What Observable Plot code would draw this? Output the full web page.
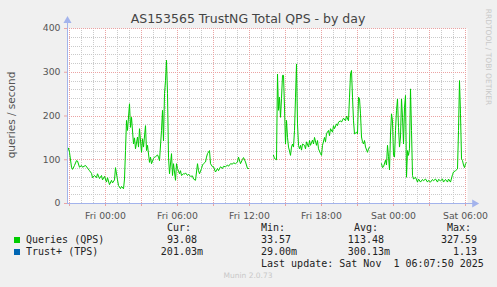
<!DOCTYPE html>
<html><head><meta charset="utf-8">
<script src="https://cdn.jsdelivr.net/npm/d3@7"></script>
<script src="https://cdn.jsdelivr.net/npm/@observablehq/plot@0.6"></script>
<style>
html,body{margin:0;padding:0;background:#f0f0f0;}
#wrap{position:relative;width:497px;height:287px;background:#f0f0f0;overflow:hidden;font-family:"DejaVu Sans",sans-serif;}
#wrap svg{position:absolute;left:0;top:0;}
.t{position:absolute;white-space:pre;line-height:1;}
.l{transform:translate(0,-50%);}
.r{transform:translate(-100%,-50%);}
.c{transform:translate(-50%,-50%);}
.mono{font-family:"DejaVu Sans Mono",monospace;font-size:10px;color:#222;}
.sq{position:absolute;width:6px;height:6px;}
</style></head><body><div id="wrap"></div>
<script>
// minutes relative to Fri 00:00 (null value = no data)
const times = [
-190,-185,-180,-170,-165,-155,-145,-140,-130,-120,-115,-100,-90,-80,-70,-65,-55,-45,-40,-30,-20,-15,-5,5,10,20,30,35,45,50,60,65,75,80,90,95,
100,105,110,120,125,130,140,145,150,160,165,170,180,185,190,200,205,210,220,225,230,240,245,250,260,265,270,280,285,290,295,300,305,310,315,320,330,335,340,350,355,360,370,375,380,390,395,
400,410,415,425,435,440,450,460,465,470,480,485,490,500,505,510,520,525,535,540,550,560,565,575,585,590,600,610,615,625,635,640,650,660,665,675,685,690,700,710,715,720,
840,845,855,860,865,870,875,880,885,890,895,900,905,910,915,920,925,930,935,940,945,950,955,960,965,970,975,980,985,995,1000,1005,1015,1020,1025,1035,1040,1045,1055,1060,1065,1075,1080,1085,1095,
1100,1105,1115,1120,1125,1135,1140,1145,1155,1160,1165,1175,1180,1190,1200,1205,1215,1220,1225,1230,1235,1240,1245,1255,1260,1265,1270,1275,1280,1285,1290,1295,1300,1310,1315,1320,1325,
1380,1385,1390,1400,1405,1410,1415,1420,1425,1430,1435,1440,1445,1450,1455,1460,1465,1470,1475,1480,1485,1490,1495,1500,1505,1510,1515,1520,1525,1530,1535,1540,1550,1560,1565,1575,1585,1590,
1600,1610,1615,1625,1635,1640,1650,1660,1665,1675,1685,1690,1700,1710,1715,1725,1735,1740,1750,1760,1765,1770,1775,1780,1785,1790,1795,1800,1805
];
const qps = [
120,127,117,83,78,87,98,97,83,87,83,87,81,75,69,59,64,59,68,57,64,54,62,49,59,43,53,47,54,82,54,41,34,39,33.57,56,
121,190,167,228,174,197,136,150,125,152,129,171,117,148,129,178,121,133,94,106,91,103,106,107,111,106,98,167,213,143,251,281,327.59,251,106,68,114,64,91,53,91,80,68,75,64,68,67,
70,64,67,62,63,56,53,91,75,68,80,88,91,95,106,114,121,91,84,84,72,80,75,84,80,85,84,88,85,91,90,93,91,95,106,91,101,105,95,80,80,null,
110,103,100,296,213,243,197,240,293,293,220,136,190,151,129,120,110,129,136,129,167,243,319,182,133,125,133,122,136,133,125,141,129,144,133,145,136,151,133,144,125,114,110,133,151,
141,160,167,155,171,163,178,171,182,178,186,189,186,195,189,200,189,243,296,304,243,189,159,163,159,243,240,205,152,141,136,144,129,117,125,129,null,
91,82,84,99,88,133,107,77,159,205,189,110,106,167,213,239,174,129,152,239,197,136,220,247,60,121,110,125,262,167,64,56,60,49,56,49,55,52,
56,49,53,49,55,52,56,49,55,52,56,49,55,49,56,49,66,72,75,79,167,281,205,102,98,88,82,91,93.08
];
const tickTimes = [0, 360, 720, 1080, 1440, 1800];
const tickLabels = ["Fri 00:00", "Fri 06:00", "Fri 12:00", "Fri 18:00", "Sat 00:00", "Sat 06:00"];
const yTicks = [0, 100, 200, 300, 400];
const seriesNames = ["Queries (QPS)", "Trust+ (TPS)"];
const seriesColors = ["#00cc00", "#0066b3"];
const curVals = ["93.08 ", "201.03m"];
const minVals = ["33.57 ", "29.00m"];
const avgVals = ["113.48 ", "300.13m"];
const maxVals = ["327.59", "1.13"];
const titleText = "AS153565 TrustNG Total QPS - by day";
const yLabel = "queries / second";
const lastUpdate = "Last update: Sat Nov  1 06:07:50 2025";

const rows = times.map((t, i) => ({t, v: qps[i] == null ? NaN : qps[i]}));
const minorX = d3.range(-180, 1801, 60);
const majorX = d3.range(-180, 1801, 180);
const minorY = d3.range(0, 401, 20);

const grey = "#cacaca", red = "#eba3a3", axisCol = "#a3b3ec";

const chart = Plot.plot({
  width: 497, height: 287,
  marginLeft: 67, marginRight: 30, marginTop: 28, marginBottom: 84,
  style: {background: "transparent", fontFamily: "DejaVu Sans, sans-serif", fontSize: "9.3px", color: "#555"},
  x: {type: "linear", domain: [-190, 1810]},
  y: {domain: [0, 400]},
  marks: [
    Plot.frame({fill: "white", stroke: null}),
    Plot.ruleX(minorX, {stroke: grey, strokeDasharray: "1,1", shapeRendering: "crispEdges"}),
    Plot.ruleY(minorY, {stroke: grey, strokeDasharray: "1,1", shapeRendering: "crispEdges"}),
    Plot.ruleX(majorX, {stroke: red, strokeDasharray: "1,1", shapeRendering: "crispEdges"}),
    Plot.ruleY(yTicks, {stroke: red, strokeDasharray: "1,1", shapeRendering: "crispEdges"}),
    Plot.axisX(majorX, {tickSize: 3, stroke: red, tickFormat: () => ""}),
    Plot.axisX(tickTimes, {tickSize: 0, tickPadding: 9, tickFormat: t => tickLabels[tickTimes.indexOf(t)], fill: "#555"}),
    Plot.axisY(yTicks, {tickSize: 3, stroke: red, tickPadding: 4, fill: "#555"}),
    Plot.line(rows, {x: "t", y: "v", stroke: seriesColors[0], strokeWidth: 1}),
    Plot.ruleY([0], {x1: -190, x2: 1840, stroke: axisCol, clip: false}),
    Plot.ruleX([-190], {y1: 0, y2: 415, stroke: axisCol, clip: false}),
    Plot.dot([{x: 1845, y: 0}], {x: "x", y: "y", symbol: "triangle", r: 3, rotate: 90, fill: axisCol, stroke: null}),
    Plot.dot([{x: -190, y: 418}], {x: "x", y: "y", symbol: "triangle", r: 3, fill: axisCol, stroke: null})
  ]
});
const wrap = document.getElementById("wrap");
wrap.appendChild(chart);

function add(text, cls, x, y, style) {
  const d = document.createElement("div");
  d.className = "t " + cls;
  d.textContent = text;
  d.style.left = x + "px"; d.style.top = y + "px";
  Object.assign(d.style, style || {});
  wrap.appendChild(d);
  return d;
}
add(titleText, "c", 248, 19, {fontSize: "12.5px", color: "#444"});
add(yLabel, "c", 11, 115, {fontSize: "10.5px", color: "#555", transform: "translate(-50%,-50%) rotate(-90deg)"});
add("RRDTOOL / TOBI OETIKER", "c", 488, 57, {fontSize: "7.5px", color: "#c8c8c8", transform: "translate(-50%,-50%) rotate(90deg)"});
add("Cur:", "l mono", 167, 228);
add("Min:", "l mono", 261, 228);
add("Avg:", "l mono", 354, 228);
add("Max:", "l mono", 447, 228);
const rowY = [239.5, 252];
seriesNames.forEach((n, i) => {
  const s = document.createElement("div");
  s.className = "sq";
  s.style.left = "14px"; s.style.top = (rowY[i] - 3) + "px"; s.style.background = seriesColors[i];
  wrap.appendChild(s);
  add(n, "l mono", 26, rowY[i]);
  add(curVals[i], "r mono", 203, rowY[i]);
  add(minVals[i], "r mono", 297, rowY[i]);
  add(avgVals[i], "r mono", 390, rowY[i]);
  add(maxVals[i], "r mono", 477, rowY[i]);
});
add(lastUpdate, "l mono", 261, 264);
add("Munin 2.0.73", "c", 248, 276, {fontSize: "7.5px", color: "#c8c8c8"});
</script></body></html>
